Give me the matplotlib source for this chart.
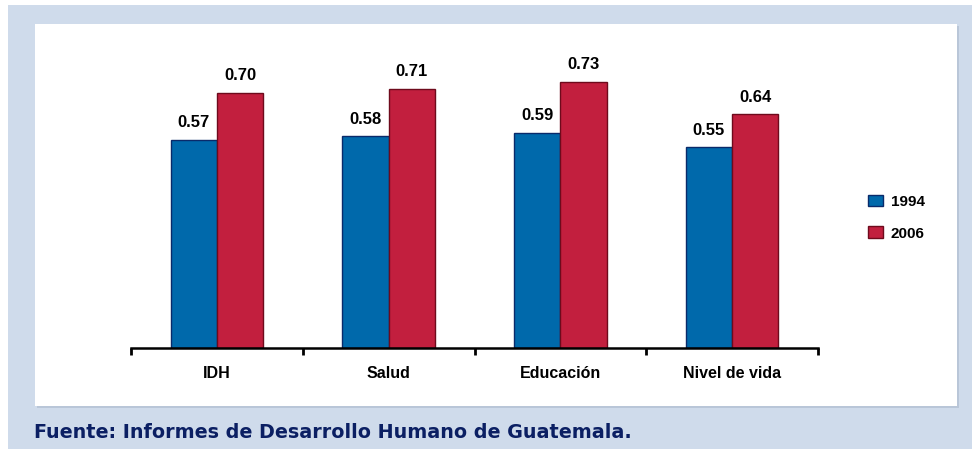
import matplotlib.pyplot as plt
from matplotlib.patches import Rectangle
import numpy as np

categories = ['IDH', 'Salud', 'Educación', 'Nivel de vida']
values_1994 = [0.57, 0.58, 0.59, 0.55]
values_2006 = [0.70, 0.71, 0.73, 0.64]
series_labels = ['1994', '2006']
source_text = 'Fuente: Informes de Desarrollo Humano de Guatemala.'

W, H = 972, 449
fig = plt.figure(figsize=(W / 100, H / 100), dpi=100)
fig.patch.set_facecolor('white')
chart_font = ['Liberation Sans', 'DejaVu Sans']

def px_rect(x0, y0, x1, y1, **kw):
    # rectangle in pixel coords (top-left origin)
    return Rectangle((x0 / W, 1 - y1 / H), (x1 - x0) / W, (y1 - y0) / H,
                     transform=fig.transFigure, **kw)

# light blue frame and white panel
fig.patches.append(px_rect(8, 5, W, H, facecolor='#cfdbeb', edgecolor='none', zorder=-10))
fig.patches.append(px_rect(37, 26, 959, 408, facecolor='#b9c6d8', edgecolor='none', zorder=-9))
fig.patches.append(px_rect(35, 24, 957, 406, facecolor='white', edgecolor='none', zorder=-8))

ax = fig.add_axes([131 / W, 1 - 348 / H, 687 / W, 308 / H])
ax.set_facecolor('none')
ax.set_zorder(5)

blue = '#0069ab'
red = '#c21f3e'
x = np.arange(len(categories))
w = 0.27
b1 = ax.bar(x - w / 2, values_1994, w, color=blue, edgecolor='#0a2a6a', linewidth=1.0, label=series_labels[0])
b2 = ax.bar(x + w / 2, values_2006, w, color=red, edgecolor='#6e0a1c', linewidth=1.0, label=series_labels[1])

for bars, vals in ((b1, values_1994), (b2, values_2006)):
    for bar, v in zip(bars, vals):
        ax.annotate(f'{v:.2f}', (bar.get_x() + bar.get_width() / 2, v),
                    xytext=(0, 7), textcoords='offset points',
                    ha='center', va='bottom', fontsize=12, fontweight='bold',
                    family=chart_font)

ax.set_xlim(-0.5, len(categories) - 0.5)
ax.set_ylim(0, 0.844)
for s in ['top', 'right', 'left']:
    ax.spines[s].set_visible(False)
ax.spines['bottom'].set_linewidth(1.8)
ax.set_yticks([])
ax.set_xticks(np.arange(-0.5, len(categories)), minor=True)
ax.set_xticks(x)
ax.set_xticklabels(categories, fontsize=11.5, fontweight='bold', family=chart_font)
ax.tick_params(axis='x', which='major', length=0, pad=13)
ax.tick_params(axis='x', which='minor', length=5, width=2, direction='out')

ax.legend(loc='upper left', bbox_to_anchor=(854 / W, 1 - 181 / H), bbox_transform=fig.transFigure,
          frameon=False, prop={'weight': 'bold', 'size': 11, 'family': chart_font},
          handlelength=1.0, handleheight=0.8, labelspacing=1.15, handletextpad=0.5)

fig.text(34 / W, 1 - 432 / H, source_text, fontsize=13.8, fontweight='bold',
         color='#0b1f63', ha='left', va='center')

fig.savefig('out.png', dpi=100)
